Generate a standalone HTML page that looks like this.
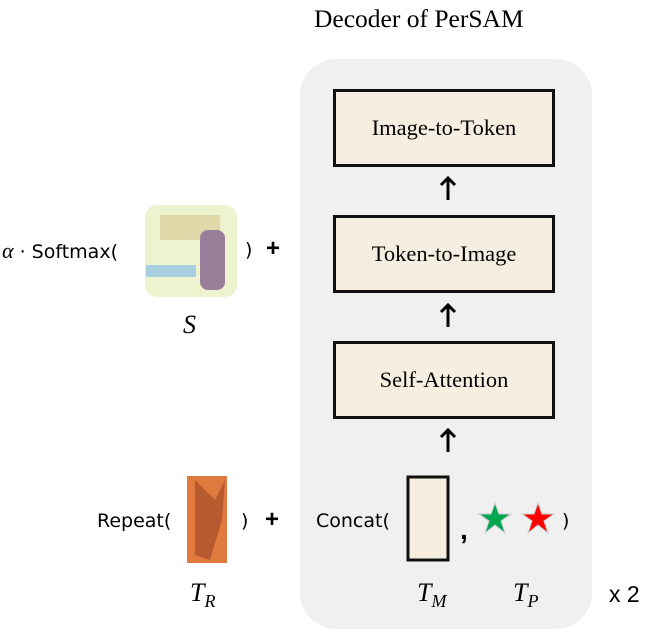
<!DOCTYPE html><html><head><style>
body{margin:0;width:653px;height:632px;background:#fff;position:relative;overflow:hidden;font-family:"Liberation Sans",sans-serif}
.a{position:absolute}
.box{position:absolute;left:333px;width:222px;background:#f6efe1;border:3px solid #111;font-family:"Liberation Serif",serif;font-size:22.5px;display:flex;align-items:center;justify-content:center;box-sizing:border-box}
.c{font-family:"DejaVu Sans",sans-serif;font-size:17px;color:#000}
.m{font-family:"Liberation Serif",serif;font-style:italic;font-size:26px}
</style></head><body>
<div class="a" style="left:300px;top:59px;width:292px;height:570px;background:#f0f0f0;border-radius:36px"></div>
<div class="a" style="left:314px;top:4px;font-family:'Liberation Serif',serif;font-size:25.5px">Decoder of PerSAM</div>
<div class="box" style="top:89px;height:78px">Image-to-Token</div>
<div class="box" style="top:215px;height:78px">Token-to-Image</div>
<div class="box" style="top:341px;height:78px">Self-Attention</div>
<svg class="a" style="left:0;top:0" width="653" height="632">
<g stroke="#000" stroke-width="3" fill="none">
<path d="M448 200V178M441 185L448 178L455 185"/>
<path d="M448 327V305M441 312L448 305L455 312"/>
<path d="M448 452V430M441 437L448 430L455 437"/>
</g>
<rect x="408" y="477" width="40" height="83" fill="#f6efe1" stroke="#111" stroke-width="3"/>
<polygon points="495,503 499,514 511,514 501,521 505,533 495,525 485,533 489,521 479,514 491,514" fill="#00a650" stroke="#ccc"/>
<polygon points="538,503 542,514 554,514 544,521 548,533 538,525 528,533 532,521 522,514 534,514" fill="#f00" stroke="#ccc"/>
<rect x="145" y="205" width="92" height="92" rx="12" fill="#eef3cf"/>
<rect x="160" y="215" width="60" height="25" fill="#e0d8a8"/>
<rect x="200" y="230" width="25" height="60" rx="8" fill="#9a7f9a"/>
<rect x="146" y="265" width="50" height="12" fill="#a8cfe0"/>
<rect x="187" y="476" width="40" height="87" fill="#e07a3e"/>
<path d="M195 480L215 500L225 480L222 520L210 560L195 555Z" fill="#b85a30"/>
</svg>
<div class="a" style="left:2px;top:238px"><span class="m" style="font-size:22px">α</span><span class="c" style="font-size:19px"> · Softmax(</span></div>
<div class="a c" style="left:245px;top:239px;font-size:19px">)</div>
<div class="a" style="left:266px;top:235px;font-size:24px;font-weight:bold">+</div>
<div class="a m" style="left:183px;top:310px">S</div>
<div class="a c" style="left:97px;top:510px;font-size:19px">Repeat(</div>
<div class="a c" style="left:241px;top:510px;font-size:19px">)</div>
<div class="a" style="left:265px;top:506px;font-size:24px;font-weight:bold">+</div>
<div class="a c" style="left:316px;top:510px;font-size:19px">Concat(</div>
<div class="a" style="left:460px;top:514px;font-size:28px;font-weight:bold">,</div>
<div class="a c" style="left:562px;top:510px;font-size:19px">)</div>
<div class="a m" style="left:190px;top:578px">T<sub style="font-size:18px">R</sub></div>
<div class="a m" style="left:417px;top:578px">T<sub style="font-size:18px">M</sub></div>
<div class="a m" style="left:513px;top:578px">T<sub style="font-size:18px">P</sub></div>
<div class="a" style="left:609px;top:581px;font-size:23px">x 2</div>
</body></html>
